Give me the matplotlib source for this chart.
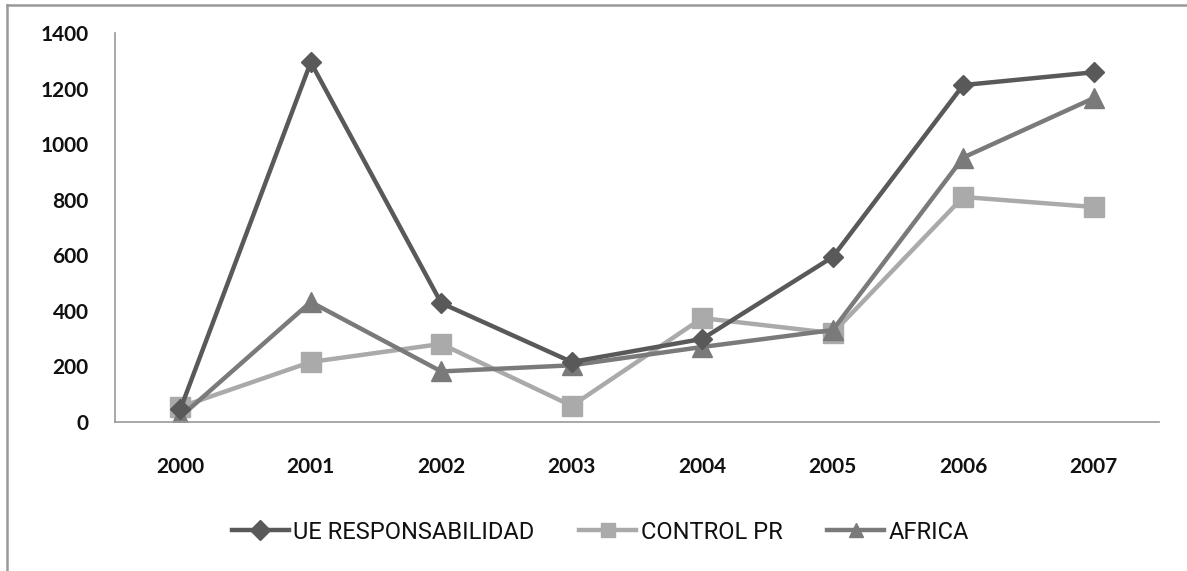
import matplotlib
matplotlib.use("Agg")
import matplotlib.pyplot as plt
from matplotlib.lines import Line2D

years = ["2000", "2001", "2002", "2003", "2004", "2005", "2006", "2007"]
ue_resp = [45, 1295, 428, 216, 299, 594, 1213, 1259]
control_pr = [54, 216, 281, 58, 374, 320, 810, 774]
africa = [18, 432, 182, 204, 270, 331, 952, 1166]

fig = plt.figure(figsize=(11.87, 5.71), dpi=100)
ax = fig.add_axes([0.0969, 0.261, 0.8795, 0.681])

x = list(range(len(years)))
ax.plot(x, ue_resp, color="#595959", lw=3.2, marker="D", ms=10, label="UE RESPONSABILIDAD", zorder=3)
ax.plot(x, control_pr, color="#aaaaaa", lw=3.2, marker="s", ms=14, label="CONTROL PR", zorder=2)
ax.plot(x, africa, color="#7a7a7a", lw=3.2, marker="^", ms=14, label="AFRICA", zorder=2.5)

ax.set_xlim(-0.5, len(years) - 0.5)
ax.set_ylim(0, 1400)
ax.set_yticks(range(0, 1401, 200))
ax.set_xticks(x)
ax.set_xticklabels(years)
ax.tick_params(length=0)
ax.tick_params(axis="x", pad=25)
ax.tick_params(axis="y", pad=19)
for lab in ax.get_xticklabels() + ax.get_yticklabels():
    lab.set_fontfamily("Lato")
    lab.set_fontweight("bold")
    lab.set_fontsize(15)
    lab.set_color("#111111")

for s in ["top", "right"]:
    ax.spines[s].set_visible(False)
for s in ["left", "bottom"]:
    ax.spines[s].set_color("#999999")
    ax.spines[s].set_linewidth(1.2)

leg = fig.legend(loc="center", bbox_to_anchor=(0.506, 0.068), ncol=3, frameon=False,
                 handlelength=2.4, columnspacing=1.9, handletextpad=0.2,
                 prop={"family": ["Roboto", "DejaVu Sans"], "size": 17})
for h in leg.legend_handles:
    h.set_markersize(10)
for t in leg.get_texts():
    t.set_color("#111111")

# outer chart border (top and left visible)
fig.add_artist(Line2D([7 / 1187, 1.0], [1 - 5 / 571, 1 - 5 / 571], color="#999999", lw=1.8, transform=fig.transFigure))
fig.add_artist(Line2D([7 / 1187, 7 / 1187], [0, 1 - 5 / 571], color="#999999", lw=1.8, transform=fig.transFigure))

fig.savefig("out.png", dpi=100)
